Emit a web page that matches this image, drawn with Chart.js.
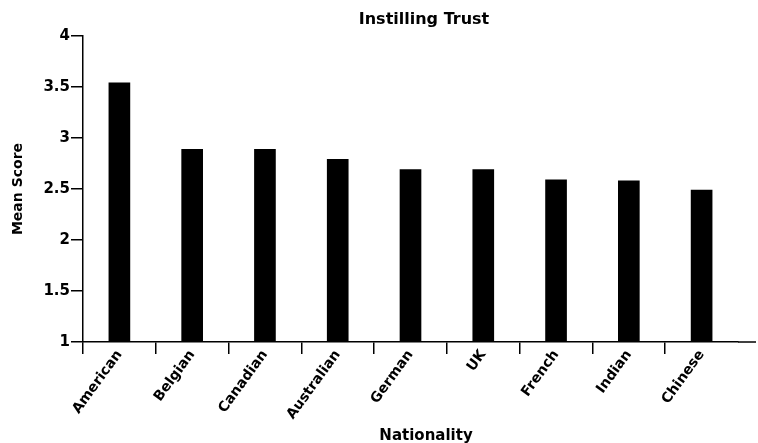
<!DOCTYPE html>
<html>
<head>
<meta charset="utf-8">
<script src="https://cdn.jsdelivr.net/npm/chart.js@4.4.0/dist/chart.umd.min.js"></script>
<style>
html,body{margin:0;padding:0;background:#fff;}
#wrap{width:758px;height:443px;position:relative;}
</style>
</head>
<body>
<div id="wrap"><canvas id="c" width="758" height="443"></canvas></div>
<script>
const categories = ['American','Belgian','Canadian','Australian','German','UK','French','Indian','Chinese'];
const meanScores = [3.54, 2.89, 2.89, 2.79, 2.69, 2.69, 2.59, 2.58, 2.49];
const yTicks = [1, 1.5, 2, 2.5, 3, 3.5, 4];
const chartTitle = 'Instilling Trust';
const xTitle = 'Nationality';
const yTitle = 'Mean Score';

const FONT = 'DejaVu Sans';

const extras = {
  id: 'extras',
  afterDraw(chart) {
    const ctx = chart.ctx;
    const ca = chart.chartArea;
    ctx.save();
    ctx.strokeStyle = '#000';
    ctx.lineWidth = 1.5;
    ctx.beginPath();
    ctx.moveTo(ca.right, ca.bottom);
    ctx.lineTo(756, ca.bottom);
    ctx.stroke();
    ctx.fillStyle = '#000';
    ctx.textAlign = 'center';
    ctx.textBaseline = 'middle';
    ctx.font = 'bold 16px "' + FONT + '"';
    ctx.fillText(chartTitle, 424, 20);
    ctx.font = 'bold 15px "' + FONT + '"';
    ctx.fillText(xTitle, 426, 436);
    ctx.restore();
  }
};

new Chart(document.getElementById('c'), {
  type: 'bar',
  data: {
    labels: categories,
    datasets: [{
      data: meanScores,
      backgroundColor: '#000',
      borderWidth: 0,
      barThickness: 21
    }]
  },
  options: {
    responsive: false,
    animation: false,
    devicePixelRatio: 1,
    layout: { padding: { top: 36, right: 20, left: 0, bottom: 0 } },
    plugins: {
      legend: { display: false },
      tooltip: { enabled: false },
      title: { display: false }
    },
    scales: {
      x: {
        offset: true,
        border: { color: '#000', width: 1.5 },
        grid: {
          offset: true,
          drawOnChartArea: false,
          drawTicks: true,
          tickLength: 12,
          lineWidth: 1.5,
          color: (ctx) => (ctx.type === 'tick' && ctx.index < categories.length ? '#000' : 'rgba(0,0,0,0)')
        },
        ticks: {
          color: '#000',
          font: { family: FONT, weight: 'bold', size: 14 },
          minRotation: 54,
          maxRotation: 54,
          padding: -7
        },
        afterFit(scale) { scale.height = 101; }
      },
      y: {
        min: 1,
        max: 4,
        border: { color: '#000', width: 1.5 },
        grid: {
          drawOnChartArea: false,
          drawTicks: true,
          tickLength: 12,
          lineWidth: 1.5,
          color: '#000'
        },
        afterBuildTicks(scale) { scale.ticks = yTicks.map(v => ({ value: v })); },
        ticks: {
          color: '#000',
          font: { family: FONT, weight: 'bold', size: 15 },
          padding: 1,
          callback: (v) => String(v)
        },
        title: {
          display: true,
          text: yTitle,
          color: '#000',
          font: { family: FONT, weight: 'bold', size: 14 },
          padding: { top: 10, bottom: 4 }
        },
        afterFit(scale) { scale.width = 83; }
      }
    }
  },
  plugins: [extras]
});
</script>
</body>
</html>
